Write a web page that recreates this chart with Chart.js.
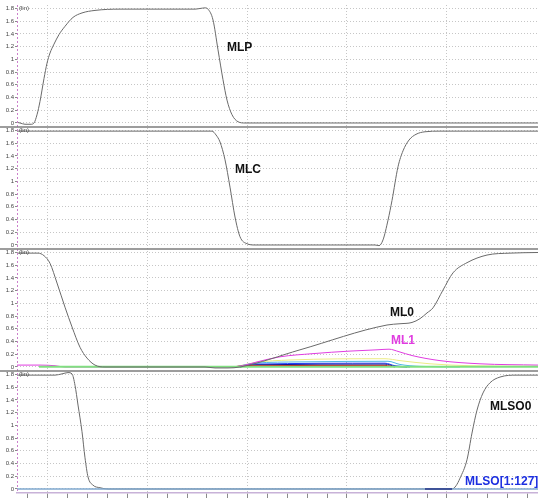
<!DOCTYPE html>
<html>
<head>
<meta charset="utf-8">
<script src="https://cdn.jsdelivr.net/npm/chart.js@4.4.1/dist/chart.umd.min.js"></script>
<style>
  html, body { margin: 0; padding: 0; background: #ffffff; overflow: hidden; }
  #wrap { position: relative; width: 538px; height: 499px; }
</style>
</head>
<body>
<div id="wrap"><canvas id="wave" width="538" height="499"></canvas></div>
<script>
// Time axis (ns) and the tick values used for the grid
const timeMin = -3;
const timeMax = 49.1;
const timeTicks = [-2, 0, 2, 4, 6, 8, 10, 12, 14, 16, 18, 20, 22, 24, 26, 28, 30, 32, 34, 36, 38, 40, 42, 44, 46, 48];
const voltTicks = [0, 0.2, 0.4, 0.6, 0.8, 1.0, 1.2, 1.4, 1.6, 1.8];

// Waveforms as [time, volts]
const MLP = [[-3,0.01],[-2.7,0],[-2.2,-0.02],[-1.6,-0.02],[-1.3,0],[-1.0,0.13],[-0.7,0.34],[-0.3,0.70],[0,0.94],[0.3,1.10],[0.7,1.24],[1.2,1.39],[1.8,1.52],[2.6,1.66],[3.5,1.73],[4.8,1.77],[7.3,1.79],[14.8,1.79],[15.3,1.80],[15.8,1.81],[16.1,1.79],[16.6,1.62],[17.1,1.15],[17.6,0.68],[18.0,0.36],[18.5,0.13],[19.1,0.02],[19.8,0],[49.1,0]];

const MLC = [[-3,1.79],[16.5,1.79],[16.9,1.73],[17.3,1.62],[17.8,1.34],[18.3,0.91],[18.8,0.44],[19.3,0.13],[20.0,0.02],[20.8,0],[32.8,0],[33.2,-0.01],[33.6,0.08],[34.1,0.39],[34.5,0.70],[35.1,1.23],[35.6,1.48],[36.2,1.65],[36.9,1.74],[37.8,1.78],[39.3,1.79],[49.1,1.79]];

const ML0 = [[-3,1.79],[-0.9,1.79],[-0.3,1.75],[0.3,1.63],[1.0,1.32],[1.8,0.94],[2.5,0.63],[3.3,0.31],[4.0,0.14],[4.8,0.03],[5.8,0],[15.8,0],[16.8,-0.015],[18.1,-0.015],[19.3,0],[25.3,0.27],[34.0,0.66],[35.3,0.68],[36.5,0.70],[37.3,0.76],[38.0,0.85],[38.6,0.93],[39.6,1.21],[40.6,1.48],[42.0,1.64],[44.0,1.76],[46.3,1.79],[49.1,1.80]];

const ML1 = [[-3,0.03],[-0.7,0.03],[0.8,0.02],[1.8,0],[18.3,0],[19.8,0.03],[21.0,0.08],[23.3,0.16],[26.6,0.21],[30.3,0.25],[33.0,0.27],[34.2,0.28],[35.2,0.24],[36.5,0.18],[39.3,0.10],[43.3,0.05],[49.1,0.03]];

// A few of the other ML bits, over the span where they leave zero
const MLy = [[18.8,0],[20.8,0.07],[24.3,0.11],[33.8,0.13],[35.3,0.10],[38.3,0.05],[42.3,0.02],[49.1,0.01]];
const MLc = [[18.8,0],[20.8,0.06],[25.3,0.08],[34.1,0.09],[35.3,0.04],[37.3,0.01],[41.3,0]];
const MLb = [[19.3,0],[20.8,0.045],[33.8,0.06],[34.8,0.02],[36.3,0]];
const MLn = [[19.3,0],[21.0,0.035],[33.8,0.045],[34.8,0.01],[36.0,0]];
const MLr = [[18.5,0],[19.8,0.02],[33.8,0.025],[34.8,0]];
const MLg = [[-0.8,0.005],[49.1,0.005]];

const MLSO0 = [[-3,1.79],[0.8,1.79],[1.5,1.81],[2.1,1.83],[2.5,1.81],[2.8,1.63],[3.1,1.32],[3.5,0.90],[3.8,0.49],[4.1,0.19],[4.6,0.06],[5.3,0.02],[6.1,0],[40.5,0],[40.9,0.05],[41.3,0.17],[42.0,0.46],[42.5,0.88],[43.0,1.24],[43.6,1.51],[44.3,1.67],[45.3,1.76],[47.0,1.79],[49.1,1.79]];
const MLSO_bus = [[-3,0],[49.1,0]];
const MLSO_seg = [[37.8,0],[40.5,0]];

// Trace names drawn on the panels
const traceNames  = ['MLP', 'MLC', 'ML0', 'ML1', 'MLSO0', 'MLSO[1:127]'];
const nameAt      = [[18.0,1.18,'p1'],[18.8,1.18,'p2'],[34.3,0.85,'p3'],[34.4,0.42,'p3'],[44.3,1.29,'p4'],[41.8,0.11,'p4']];
const nameColors  = ['#111111','#111111','#111111','#e03ce0','#111111','#1c2fe0'];

const toXY = arr => arr.map(p => ({ x: p[0], y: p[1] }));

function trace(data, axis, color, width) {
  return {
    data: toXY(data), yAxisID: axis,
    borderColor: color, borderWidth: width || 1,
    pointRadius: 0, fill: false,
    cubicInterpolationMode: 'monotone'
  };
}

function panelScale() {
  return {
    type: 'linear', position: 'left', stack: 'panels', stackWeight: 1,
    min: -0.063, max: 1.855,
    afterBuildTicks: s => { s.ticks = voltTicks.map(v => ({ value: v })); },
    afterFit: s => { s.width = 17; },
    ticks: {
      autoSkip: false, padding: 1, color: '#444444',
      font: { family: 'Liberation Sans', size: 6 },
      callback: v => String(Math.round(v * 10) / 10)
    },
    grid: { color: '#c6c6c6', lineWidth: 1, tickLength: 2, tickColor: '#8a8a8a' },
    border: { display: false, dash: [1, 2] }
  };
}

const decorations = {
  id: 'decorations',
  afterDatasetsDraw(chart) {
    const ctx = chart.ctx;
    const area = chart.chartArea;
    const panels = ['p1', 'p2', 'p3', 'p4'].map(id => chart.scales[id]).sort((a, b) => a.top - b.top);
    ctx.save();

    // dotted left axis
    ctx.strokeStyle = '#cc80cc';
    ctx.lineWidth = 1;
    ctx.setLineDash([2, 2]);
    ctx.beginPath();
    ctx.moveTo(area.left + 0.5, area.top);
    ctx.lineTo(area.left + 0.5, area.bottom);
    ctx.stroke();
    ctx.setLineDash([]);

    // panel separators
    ctx.strokeStyle = '#7c7c7c';
    ctx.lineWidth = 1.5;
    panels.slice(0, 3).forEach(s => {
      const y = Math.round(s.bottom);
      ctx.beginPath();
      ctx.moveTo(0, y);
      ctx.lineTo(chart.width, y);
      ctx.stroke();
    });

    // unit tag beside the top tick of every panel
    ctx.fillStyle = '#444444';
    ctx.font = '6px "Liberation Sans"';
    ctx.textAlign = 'left';
    ctx.textBaseline = 'middle';
    panels.forEach(s => {
      ctx.fillText('(lin)', area.left + 2, s.getPixelForValue(1.8));
    });

    // trace names
    ctx.font = 'bold 12px "Liberation Sans"';
    const xs = chart.scales.x;
    traceNames.forEach((name, i) => {
      const [t, v, axis] = nameAt[i];
      ctx.fillStyle = nameColors[i];
      ctx.fillText(name, xs.getPixelForValue(t), chart.scales[axis].getPixelForValue(v));
    });
    ctx.restore();
  }
};

new Chart(document.getElementById('wave'), {
  type: 'line',
  data: {
    datasets: [
      trace(MLP, 'p1', '#6a6a6a'),
      trace(MLC, 'p2', '#6a6a6a'),
      trace(ML0, 'p3', '#6a6a6a'),
      trace(MLg, 'p3', '#80e080', 2),
      trace(ML1, 'p3', '#e03ce0'),
      trace(MLr, 'p3', '#c81414'),
      trace(MLn, 'p3', '#161690'),
      trace(MLb, 'p3', '#2040ff'),
      trace(MLc, 'p3', '#4cb8e6'),
      trace(MLy, 'p3', '#ecec84'),
      trace(MLSO_seg, 'p4', '#27378a', 1.5),
      trace(MLSO_bus, 'p4', '#7fa8cf', 1.5),
      trace(MLSO0, 'p4', '#6a6a6a')
    ]
  },
  options: {
    responsive: false,
    animation: false,
    devicePixelRatio: 1,
    layout: { padding: { top: 5, right: 0, bottom: 0, left: 0 } },
    plugins: { legend: { display: false }, tooltip: { enabled: false } },
    scales: {
      x: {
        type: 'linear', position: 'bottom', min: timeMin, max: timeMax,
        afterBuildTicks: s => { s.ticks = timeTicks.map(v => ({ value: v })); },
        afterFit: s => { s.height = 6; },
        ticks: { display: false },
        grid: {
          color: c => (c.tick && c.tick.value % 10 === 0) ? '#c6c6c6' : 'rgba(0,0,0,0)',
          tickColor: '#8a8a8a', tickLength: 5, lineWidth: 1
        },
        border: { display: true, color: '#c8b2d8', width: 1.5, dash: [1, 2] }
      },
      // stacked panels are laid out bottom-up in definition order
      p4: panelScale(),
      p3: panelScale(),
      p2: panelScale(),
      p1: panelScale()
    }
  },
  plugins: [decorations]
});
</script>
</body>
</html>
